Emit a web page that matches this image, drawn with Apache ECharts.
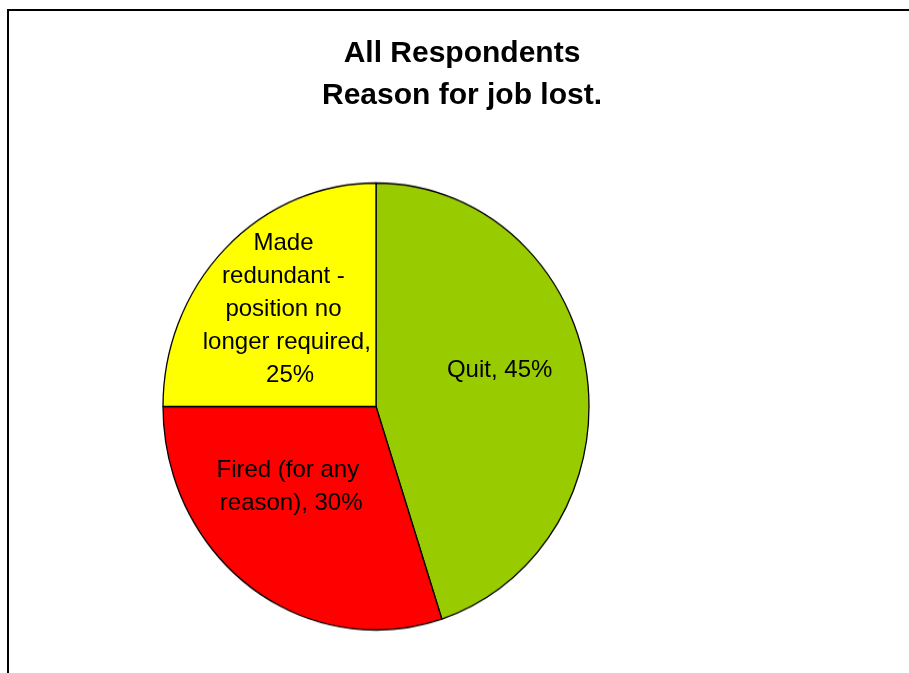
<!DOCTYPE html>
<html><head><meta charset="utf-8">
<script src="https://cdn.jsdelivr.net/npm/echarts/dist/echarts.min.js"></script>
<style>
html,body{margin:0;padding:0;background:#fff;overflow:hidden}
#pie,#fg{position:absolute;left:0;top:0;width:909px;height:673px}
#pie{transform:scaleY(1.0493);transform-origin:376px 406.5px}
</style></head><body>
<div id="pie"></div><div id="fg"></div>
<script>
// ---- data ----
const categories = ['Quit', 'Fired (for any reason)', 'Made redundant - position no longer required'];
const shares = [45, 30, 25];
const titleLines = ['All Respondents', 'Reason for job lost.'];

// ---- styles ----
const sliceColors = ['#99CC00', '#FF0000', '#FFFF00'];
const labelWidths = [200, 150, 172];
const labelShift = [[13, -18.5], [-19, -10], [-10, -18]];
const FONT = "'Liberation Sans', Arial, sans-serif";
const CENTER = [376, 406.5];

const pieData = categories.map((c, i) => ({
  name: c, value: shares[i],
  itemStyle: { color: sliceColors[i] }
}));

// back layer: the coloured pie (stretched vertically like the original ellipse)
const back = echarts.init(document.getElementById('pie'), null, { renderer: 'canvas' });
back.setOption({
  animation: false,
  series: [{
    type: 'pie', center: CENTER, radius: 213, startAngle: 90, clockwise: true,
    silent: true, label: { show: false }, labelLine: { show: false },
    itemStyle: { borderColor: '#000', borderWidth: 1.3 },
    data: pieData
  }]
});

// front layer: title, frame and slice labels
const front = echarts.init(document.getElementById('fg'), null, { renderer: 'canvas' });
front.setOption({
  animation: false,
  backgroundColor: 'transparent',
  title: {
    text: titleLines.join('\n'),
    left: 457, top: 28, textAlign: 'center',
    textStyle: { fontFamily: FONT, fontSize: 30, fontWeight: 'bold', color: '#000', lineHeight: 42 }
  },
  graphic: [{
    type: 'rect', silent: true,
    shape: { x: 8, y: 10, width: 1200, height: 1200 },
    style: { fill: 'none', stroke: '#000', lineWidth: 2 }
  }],
  series: [{
    type: 'pie', center: CENTER, radius: 218, startAngle: 90, clockwise: true,
    silent: true, labelLine: { show: false },
    itemStyle: { color: 'rgba(0,0,0,0)', borderWidth: 0 },
    label: {
      show: true, position: 'inside', fontFamily: FONT, fontSize: 24, lineHeight: 33,
      color: '#000', textBorderWidth: 0, overflow: 'break', align: 'center',
      formatter: p => p.name + ', ' + p.value + '%'
    },
    labelLayout: p => ({ dx: labelShift[p.dataIndex][0], dy: labelShift[p.dataIndex][1] }),
    data: categories.map((c, i) => ({
      name: c, value: shares[i],
      label: { width: labelWidths[i] }
    }))
  }]
});
</script>
</body></html>
